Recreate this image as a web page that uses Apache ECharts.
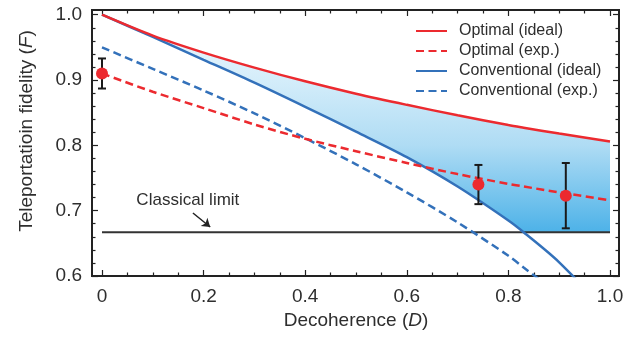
<!DOCTYPE html>
<html>
<head>
<meta charset="utf-8">
<script src="https://cdn.jsdelivr.net/npm/echarts@6/dist/echarts.min.js"></script>
<style>
  html, body { margin: 0; padding: 0; background: #fff; }
  #chart { width: 638px; height: 345px; }
</style>
</head>
<body>
<div id="chart"></div>
<script>
// values
const decoherence       = [0, 0.1, 0.2, 0.3, 0.4, 0.5, 0.6, 0.7, 0.8, 0.83, 0.9, 1.0];
const optimalIdeal      = [1.000, 0.968, 0.942, 0.919, 0.898, 0.879, 0.862, 0.846, 0.831, 0.827, 0.818, 0.806];
const optimalExp        = [0.910, 0.882, 0.857, 0.832, 0.810, 0.791, 0.773, 0.756, 0.741, 0.737, 0.728, 0.716];
const conventionalIdeal = [1.000, 0.966, 0.931, 0.896, 0.859, 0.821, 0.782, 0.737, 0.685, 0.667, 0.621, 0.540];
const conventionalExp   = [0.950, 0.917, 0.884, 0.849, 0.811, 0.771, 0.728, 0.682, 0.631, 0.613, 0.571, 0.500];
const classicalLimit = 0.667;

// measured points with error bars
const pointD   = [0, 0.741, 0.913];
const pointF   = [0.910, 0.740, 0.723];
const pointErr = [0.023, 0.030, 0.050];

const xTicks = [0, 0.2, 0.4, 0.6, 0.8, 1.0];
const yTicks = [0.6, 0.7, 0.8, 0.9, 1.0];

const RED = '#ec2a2f';
const BLUE = '#3371ba';
const INK = '#222';
const TXT = '#2e2e2e';
const FONT = '"Liberation Sans", Arial, Helvetica, sans-serif';

const pairs = ys => decoherence.map((d, i) => [d, ys[i]]);
// shaded region: between optimal (ideal) and max(conventional (ideal), classical limit)
const bandLow = conventionalIdeal.map(v => Math.max(v, classicalLimit));

const chart = echarts.init(document.getElementById('chart'));

const tickStyle = { color: INK, width: 1.2 };
function dataX(extra) {
  return Object.assign({
    gridIndex: 1, type: 'value', min: xTicks[0], max: xTicks[xTicks.length - 1], interval: 0.2,
    axisLine: { show: false, onZero: false },
    axisTick: { show: true, inside: true, length: 6, lineStyle: tickStyle },
    minorTick: { show: true, splitNumber: 4, length: 3.5, lineStyle: tickStyle },
    splitLine: { show: false }
  }, extra);
}
function dataY(extra) {
  return Object.assign({
    gridIndex: 1, type: 'value', min: yTicks[0], max: yTicks[yTicks.length - 1], interval: 0.1,
    axisLine: { show: false, onZero: false },
    axisTick: { show: true, inside: true, length: 6, lineStyle: tickStyle },
    minorTick: { show: true, splitNumber: 5, length: 3.5, lineStyle: tickStyle },
    splitLine: { show: false }
  }, extra);
}

const option = {
  animation: false,
  textStyle: { fontFamily: FONT },
  grid: [
    { left: 92, top: 10, right: 19, bottom: 69, show: true, borderColor: INK, borderWidth: 2, backgroundColor: 'transparent' },
    { left: 102, top: 14.7, right: 28, bottom: 69 }
  ],
  legend: {
    orient: 'vertical', left: 415, top: 23, padding: 0,
    itemWidth: 31, itemHeight: 12, itemGap: 4,
    itemStyle: { opacity: 0 },
    textStyle: { fontSize: 16, color: TXT, fontFamily: FONT, padding: [0, 0, 0, 7] },
    data: ['Optimal (ideal)', 'Optimal (exp.)', 'Conventional (ideal)', 'Conventional (exp.)']
  },
  xAxis: [
    { gridIndex: 0, type: 'value', show: false, min: 0, max: 1 },
    dataX({
      position: 'bottom',
      axisLabel: { margin: 11, fontSize: 19, color: TXT, fontFamily: FONT,
        formatter: v => (v === 0 ? '0' : v.toFixed(1)) },
      name: '{n|Decoherence (}{i|D}{n|)}', nameLocation: 'middle', nameGap: 33,
      nameTextStyle: { rich: {
        n: { fontSize: 19, color: TXT, fontFamily: FONT },
        i: { fontSize: 19, color: TXT, fontFamily: FONT, fontStyle: 'italic' }
      } }
    }),
    dataX({ position: 'top', offset: 4.7, axisLabel: { show: false } })
  ],
  yAxis: [
    { gridIndex: 0, type: 'value', show: false, min: 0, max: 1 },
    dataY({
      position: 'left', offset: 10,
      axisLabel: { margin: 10, fontSize: 19, color: TXT, fontFamily: FONT, formatter: v => v.toFixed(1) }
    }),
    dataY({ position: 'right', offset: 9, axisLabel: { show: false } })
  ],
  series: [
    {
      name: 'band', type: 'custom', xAxisIndex: 1, yAxisIndex: 1, silent: true, z: 1,
      encode: { x: 0, y: 1 },
      data: [[decoherence[0], optimalIdeal[0]]],
      renderItem: (params, api) => {
        const upper = decoherence.map((d, i) => api.coord([d, optimalIdeal[i]]));
        const lower = decoherence.map((d, i) => api.coord([d, bandLow[i]])).reverse();
        return {
          type: 'polygon',
          shape: { points: upper.concat(lower) },
          style: {
            fill: new echarts.graphic.LinearGradient(0, 0, 0, 1, [
              { offset: 0, color: '#f1f9fe' },
              { offset: 0.3, color: '#d4edfa' },
              { offset: 0.6, color: '#afdcf4' },
              { offset: 1, color: '#4db2e8' }
            ])
          }
        };
      }
    },
    {
      name: 'Classical limit', type: 'line', xAxisIndex: 1, yAxisIndex: 1,
      data: [[xTicks[0], classicalLimit], [xTicks[xTicks.length - 1], classicalLimit]],
      symbol: 'none', lineStyle: { color: '#333', width: 1.8 }, z: 2, silent: true,
      markLine: {
        silent: true, symbol: ['none', 'arrow'], symbolSize: 8,
        lineStyle: { color: INK, width: 1.5, type: 'solid' },
        label: { show: false },
        data: [[{ coord: [0.179, 0.6965] }, { coord: [0.213, 0.675] }]]
      }
    },
    {
      name: 'Conventional (ideal)', type: 'line', xAxisIndex: 1, yAxisIndex: 1,
      data: pairs(conventionalIdeal), symbol: 'none', smooth: 0.3,
      color: BLUE, lineStyle: { color: BLUE, width: 2.5 }, z: 3
    },
    {
      name: 'Conventional (exp.)', type: 'line', xAxisIndex: 1, yAxisIndex: 1,
      data: pairs(conventionalExp), symbol: 'none', smooth: 0.3,
      color: BLUE, lineStyle: { color: BLUE, width: 2.5, type: [8, 4.5] }, z: 3
    },
    {
      name: 'Optimal (ideal)', type: 'line', xAxisIndex: 1, yAxisIndex: 1,
      data: pairs(optimalIdeal), symbol: 'none', smooth: 0.3,
      color: RED, lineStyle: { color: RED, width: 2.5 }, z: 4
    },
    {
      name: 'Optimal (exp.)', type: 'line', xAxisIndex: 1, yAxisIndex: 1,
      data: pairs(optimalExp), symbol: 'none', smooth: 0.3,
      color: RED, lineStyle: { color: RED, width: 2.5, type: [8, 4.5] }, z: 4
    },
    {
      name: 'errorbars', type: 'custom', xAxisIndex: 1, yAxisIndex: 1, z: 5, silent: true,
      encode: { x: 0, y: 1 },
      data: pointD.map((d, i) => [d, pointF[i], pointErr[i]]),
      renderItem: (params, api) => {
        const x = api.value(0), y = api.value(1), e = api.value(2);
        const top = api.coord([x, y + e]);
        const bot = api.coord([x, y - e]);
        const h = 4;
        const st = { stroke: '#1a1a1a', lineWidth: 2 };
        return {
          type: 'group',
          children: [
            { type: 'line', shape: { x1: top[0], y1: top[1], x2: bot[0], y2: bot[1] }, style: st },
            { type: 'line', shape: { x1: top[0] - h, y1: top[1], x2: top[0] + h, y2: top[1] }, style: st },
            { type: 'line', shape: { x1: bot[0] - h, y1: bot[1], x2: bot[0] + h, y2: bot[1] }, style: st }
          ]
        };
      }
    },
    {
      name: 'points', type: 'scatter', xAxisIndex: 1, yAxisIndex: 1, z: 6, silent: true,
      data: pointD.map((d, i) => [d, pointF[i]]),
      symbol: 'circle', symbolSize: 12, itemStyle: { color: RED, opacity: 1 }
    }
  ]
};

chart.setOption(option);

// annotation text and rotated y-axis title
const labelPos = chart.convertToPixel({ gridIndex: 1 }, [0.169, 0.716]);
chart.setOption({
  graphic: [
    {
      type: 'text', x: labelPos[0], y: labelPos[1], silent: true,
      style: { text: 'Classical limit', font: '17px ' + FONT, fill: TXT, align: 'center', verticalAlign: 'middle' }
    },
    {
      type: 'text', x: 27, y: 131, rotation: Math.PI / 2, silent: true,
      style: {
        text: '{n|Teleportatioin fidelity (}{i|F}{n|)}',
        align: 'center', verticalAlign: 'middle',
        rich: {
          n: { fontSize: 19, fill: TXT, fontFamily: FONT },
          i: { fontSize: 19, fill: TXT, fontFamily: FONT, fontStyle: 'italic' }
        }
      }
    }
  ]
});
</script>
</body>
</html>
